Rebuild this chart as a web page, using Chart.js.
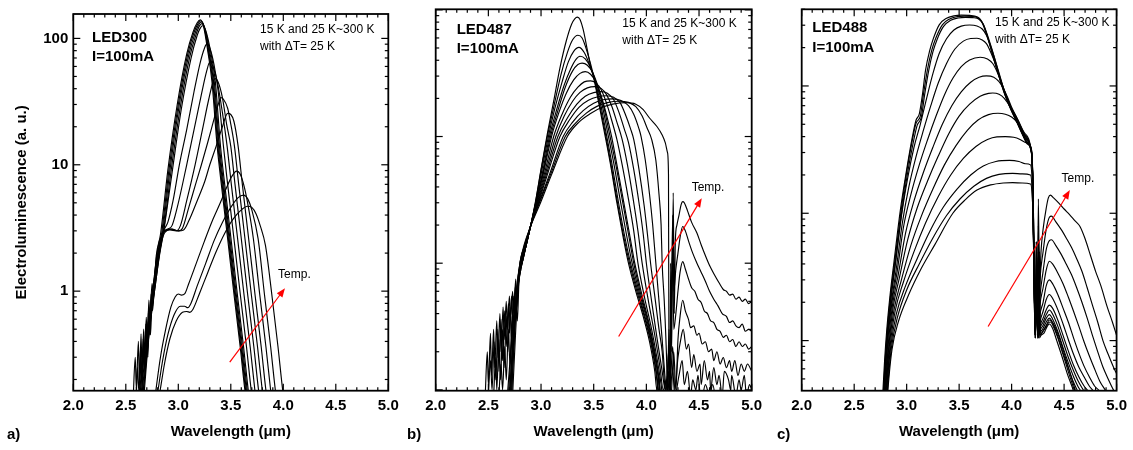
<!DOCTYPE html>
<html><head><meta charset="utf-8">
<script src="https://cdn.jsdelivr.net/npm/chart.js@4.4.1/dist/chart.umd.min.js"></script>
<style>
html,body{margin:0;padding:0;background:#fff;width:1133px;height:450px;overflow:hidden}
canvas{position:absolute;top:0}
</style></head><body>
<canvas id="ca" width="410" height="450" style="left:0"></canvas>
<canvas id="cb" width="380" height="450" style="left:395px"></canvas>
<canvas id="cc" width="368" height="450" style="left:765px"></canvas>
<script>
// ---------- shared ticks / labels ----------
const temps = ['15 K','25 K','50 K','75 K','100 K','125 K','150 K','175 K','200 K','225 K','250 K','275 K','300 K'];
const xTicks = [2.0,2.5,3.0,3.5,4.0,4.5,5.0];
const yTicksA = [1,10,100];

// ---------- panel a : LED300 ----------
const a15K=[[2.57,0.14],[2.59,0.3],[2.60,0.17],[2.62,0.4],[2.63,0.18],[2.645,0.46],[2.655,0.22],[2.67,0.5],[2.68,0.3],[2.695,0.62],[2.705,0.4],[2.72,0.85],[2.73,0.6],[2.75,1.15],[2.76,0.9],[2.79,1.9],[2.83,2.8],[2.90,9],[2.99,30],[3.08,75],[3.14,112],[3.18,133],[3.21,140],[3.24,125],[3.28,80],[3.32,46],[3.37,14],[3.41,7],[3.47,2.6],[3.53,0.95],[3.59,0.36],[3.635,0.163],[3.66,0.12]];
const a25K=[[2.62,0.14],[2.68,0.35],[2.73,0.7],[2.78,1.4],[2.84,2.8],[2.91,9],[3.00,30],[3.09,75],[3.15,112],[3.19,132],[3.215,138],[3.245,124],[3.285,80],[3.327,46],[3.377,14],[3.417,7],[3.477,2.6],[3.537,0.95],[3.597,0.36],[3.642,0.163],[3.67,0.12]];
const a50K=[[2.64,0.14],[2.70,0.4],[2.75,0.8],[2.80,1.6],[2.85,2.9],[2.92,9],[3.01,30],[3.10,74],[3.16,110],[3.195,129],[3.22,135],[3.25,121],[3.29,80],[3.334,46],[3.384,14],[3.424,7],[3.484,2.6],[3.544,0.95],[3.604,0.36],[3.649,0.163],[3.675,0.12]];
const a75K=[[2.60,0.14],[2.61,0.25],[2.625,0.16],[2.64,0.35],[2.65,0.2],[2.665,0.42],[2.675,0.25],[2.69,0.55],[2.70,0.3],[2.715,0.7],[2.725,0.45],[2.74,0.95],[2.755,0.7],[2.78,1.5],[2.82,2.5],[2.855,2.9],[2.93,8.8],[3.02,29],[3.11,72],[3.17,108],[3.20,125],[3.225,131],[3.255,119],[3.30,78],[3.342,46],[3.392,14],[3.432,7],[3.492,2.6],[3.552,0.95],[3.612,0.36],[3.657,0.163],[3.68,0.12]];
const a100K=[[2.66,0.14],[2.72,0.45],[2.77,0.95],[2.82,1.9],[2.86,2.95],[2.94,8.6],[3.03,28],[3.12,69],[3.18,106],[3.205,119],[3.23,126],[3.26,116],[3.31,77],[3.352,46],[3.402,14],[3.442,7],[3.502,2.6],[3.562,0.95],[3.622,0.36],[3.667,0.163],[3.69,0.12]];
const a125K=[[2.63,0.14],[2.69,0.4],[2.74,0.8],[2.79,1.7],[2.86,3.0],[2.90,3.5],[2.95,5.2],[3.01,10],[3.08,19],[3.15,38],[3.21,65],[3.25,84],[3.27,90],[3.30,84],[3.34,62],[3.38,38],[3.43,14],[3.47,7],[3.53,2.6],[3.59,0.95],[3.65,0.36],[3.695,0.163],[3.72,0.12]];
const a150K=[[2.63,0.14],[2.645,0.28],[2.655,0.17],[2.67,0.38],[2.685,0.22],[2.70,0.5],[2.71,0.3],[2.725,0.65],[2.735,0.45],[2.75,0.9],[2.77,1.2],[2.80,1.9],[2.85,2.9],[2.90,3.1],[2.94,3.3],[2.99,4.6],[3.08,10],[3.15,19],[3.22,36],[3.27,55],[3.30,65],[3.33,60],[3.37,46],[3.42,26],[3.465,14],[3.505,7],[3.565,2.6],[3.625,0.95],[3.685,0.36],[3.73,0.163],[3.75,0.12]];
const a175K=[[2.65,0.14],[2.71,0.45],[2.76,0.9],[2.81,1.9],[2.85,2.9],[2.92,3.05],[2.98,3.0],[3.02,3.3],[3.08,5.2],[3.16,10],[3.23,19],[3.29,33],[3.33,45],[3.35,48],[3.38,45],[3.42,34],[3.46,21],[3.50,14],[3.54,7],[3.60,2.6],[3.66,0.95],[3.72,0.36],[3.765,0.163],[3.79,0.12]];
const a200K=[[2.66,0.14],[2.72,0.5],[2.77,1.0],[2.82,2.0],[2.86,2.9],[2.93,3.1],[3.00,3.0],[3.04,3.15],[3.10,4.6],[3.16,6.8],[3.22,10],[3.28,15],[3.34,23],[3.38,30],[3.405,34],[3.43,33],[3.47,28],[3.50,21],[3.535,14],[3.575,7],[3.635,2.6],[3.695,0.95],[3.755,0.36],[3.80,0.163],[3.82,0.12]];
const a225K=[[2.67,0.14],[2.73,0.55],[2.78,1.1],[2.83,2.2],[2.87,2.9],[2.94,3.1],[3.00,3.0],[3.05,3.05],[3.10,3.6],[3.18,5.2],[3.25,7.3],[3.30,10],[3.36,14],[3.42,20],[3.47,25.5],[3.50,25],[3.53,22],[3.57,14],[3.61,7],[3.67,2.6],[3.73,0.95],[3.79,0.36],[3.835,0.163],[3.86,0.12]];
const a250K=[[2.78,0.15],[2.83,0.3],[2.88,0.5],[2.93,0.75],[2.97,0.9],[3.00,0.95],[3.03,0.93],[3.06,0.95],[3.10,1.15],[3.17,1.65],[3.25,2.5],[3.33,3.7],[3.40,5.0],[3.46,6.6],[3.51,8.1],[3.555,8.9],[3.59,8.4],[3.63,6.6],[3.67,4.5],[3.715,2.6],[3.775,0.95],[3.835,0.36],[3.88,0.163],[3.90,0.12]];
const a275K=[[2.80,0.15],[2.85,0.28],[2.90,0.45],[2.96,0.65],[3.02,0.76],[3.06,0.76],[3.09,0.74],[3.12,0.8],[3.18,1.1],[3.26,1.65],[3.34,2.5],[3.42,3.5],[3.50,4.6],[3.57,5.5],[3.62,5.76],[3.66,5.4],[3.70,4.4],[3.76,2.6],[3.82,0.95],[3.88,0.36],[3.925,0.163],[3.95,0.12]];
const a300K=[[2.82,0.15],[2.87,0.27],[2.92,0.42],[2.98,0.58],[3.04,0.68],[3.08,0.69],[3.11,0.68],[3.14,0.72],[3.20,0.95],[3.28,1.4],[3.36,2.05],[3.44,2.85],[3.52,3.7],[3.60,4.4],[3.66,4.7],[3.70,4.6],[3.74,4.1],[3.78,3.3],[3.83,2.3],[3.89,0.95],[3.95,0.36],[3.995,0.163],[4.02,0.12]];

// ---------- panel b : LED487 ----------
const b15K=[[2.47,0.09],[2.49,0.2],[2.50,0.11],[2.52,0.28],[2.53,0.13],[2.55,0.3],[2.56,0.15],[2.58,0.35],[2.59,0.18],[2.61,0.4],[2.62,0.2],[2.64,0.45],[2.65,0.25],[2.67,0.5],[2.68,0.3],[2.70,0.55],[2.71,0.35],[2.73,0.6],[2.74,0.4],[2.76,0.75],[2.77,0.5],[2.79,0.85],[2.82,1.0],[2.86,1.4],[2.90,1.95],[2.945,3.0],[3.00,5.5],[3.055,10],[3.12,19],[3.18,35],[3.24,57],[3.29,77],[3.32,85],[3.345,87.6],[3.37,84],[3.40,70],[3.44,48],[3.47,36],[3.50,29],[3.55,18],[3.60,11],[3.66,6],[3.72,3.0],[3.78,1.6],[3.83,1.0],[3.90,0.6],[3.97,0.38],[4.03,0.24],[4.08,0.14],[4.10,0.1],[4.12,0.13],[4.13,0.08]];
const b25K=[[2.70,0.09],[2.74,0.3],[2.78,0.65],[2.82,1.0],[2.86,1.4],[2.90,1.95],[2.947,3.0],[3.00,5.4],[3.06,10],[3.12,17],[3.19,31],[3.25,46],[3.30,58],[3.35,63],[3.39,60],[3.44,46],[3.50,30],[3.55,19],[3.605,11.2],[3.66,6.3],[3.72,3.2],[3.78,1.7],[3.84,1.0],[3.91,0.6],[3.98,0.38],[4.04,0.24],[4.09,0.14],[4.11,0.1],[4.13,0.08]];
const b50K=[[2.68,0.09],[2.73,0.3],[2.78,0.65],[2.82,1.0],[2.86,1.4],[2.90,1.95],[2.95,3.0],[3.00,5.0],[3.07,10],[3.13,16.5],[3.20,27],[3.26,39],[3.31,47],[3.36,50.5],[3.41,46],[3.46,37],[3.51,28],[3.56,19],[3.615,11],[3.67,6.3],[3.73,3.2],[3.79,1.7],[3.85,1.0],[3.92,0.6],[3.99,0.37],[4.05,0.23],[4.10,0.13],[4.12,0.09]];
const b75K=[[2.50,0.09],[2.52,0.17],[2.535,0.1],[2.555,0.24],[2.57,0.12],[2.59,0.3],[2.60,0.14],[2.62,0.36],[2.635,0.17],[2.655,0.42],[2.67,0.22],[2.69,0.48],[2.70,0.28],[2.72,0.55],[2.735,0.33],[2.755,0.65],[2.77,0.45],[2.79,0.8],[2.82,1.0],[2.86,1.4],[2.90,1.95],[2.95,3.0],[3.01,5.0],[3.08,10],[3.15,16.5],[3.22,25.5],[3.28,34],[3.33,40.5],[3.37,43],[3.42,41],[3.47,35],[3.52,27],[3.57,19.5],[3.63,11],[3.69,6.2],[3.75,3.2],[3.81,1.7],[3.865,1.0],[3.93,0.6],[4.00,0.37],[4.06,0.22],[4.11,0.13],[4.13,0.09]];
const b100K=[[2.69,0.09],[2.73,0.3],[2.775,0.65],[2.815,1.0],[2.86,1.4],[2.90,1.95],[2.952,3.0],[3.015,5.0],[3.09,10],[3.16,16],[3.23,24.5],[3.30,33],[3.35,37],[3.39,38],[3.44,36.5],[3.49,32],[3.54,25],[3.59,18],[3.65,10.5],[3.71,6],[3.77,3.2],[3.83,1.7],[3.88,1.0],[3.94,0.6],[4.01,0.36],[4.07,0.21],[4.12,0.12],[4.14,0.08]];
const b125K=[[2.71,0.09],[2.74,0.3],[2.775,0.65],[2.815,1.0],[2.86,1.4],[2.90,1.95],[2.955,3.0],[3.02,5.0],[3.10,10],[3.17,15.5],[3.24,22],[3.31,28],[3.37,31.5],[3.42,32.5],[3.47,31],[3.52,27],[3.57,21],[3.62,15],[3.67,10],[3.72,6],[3.78,3.2],[3.84,1.7],[3.89,1.0],[3.95,0.6],[4.02,0.35],[4.08,0.2],[4.12,0.12],[4.14,0.08]];
const b150K=[[2.55,0.09],[2.57,0.18],[2.58,0.1],[2.60,0.25],[2.615,0.12],[2.635,0.3],[2.65,0.15],[2.67,0.38],[2.685,0.2],[2.705,0.45],[2.72,0.25],[2.74,0.55],[2.755,0.35],[2.78,0.75],[2.815,1.0],[2.86,1.4],[2.90,1.95],[2.96,3.0],[3.03,5.0],[3.12,10],[3.20,15],[3.28,20.5],[3.35,24.5],[3.41,27],[3.47,27.5],[3.52,26.5],[3.57,23.5],[3.62,18.5],[3.67,13.5],[3.72,9.5],[3.77,6],[3.83,3.2],[3.88,1.8],[3.92,1.0],[3.98,0.55],[4.05,0.3],[4.10,0.18],[4.14,0.11],[4.16,0.08]];
const b175K=[[2.72,0.09],[2.75,0.3],[2.78,0.65],[2.81,1.0],[2.855,1.4],[2.90,1.95],[2.965,3.0],[3.04,5.0],[3.14,10],[3.22,14.5],[3.30,19],[3.37,22.3],[3.44,24.2],[3.51,24.8],[3.57,24],[3.62,21.5],[3.67,17.5],[3.72,13],[3.77,9.5],[3.82,6],[3.87,3.4],[3.92,1.8],[3.96,1.0],[4.02,0.5],[4.08,0.27],[4.13,0.15],[4.16,0.1],[4.19,0.12],[4.21,0.08],[4.25,0.14],[4.27,0.09],[4.31,0.13],[4.34,0.17],[4.36,0.11],[4.39,0.14],[4.42,0.09],[4.44,0.12],[4.47,0.1],[4.49,0.13],[4.52,0.08],[4.56,0.11],[4.60,0.09],[4.63,0.11],[4.66,0.08]];
const b200K=[[2.73,0.09],[2.76,0.3],[2.785,0.65],[2.81,1.0],[2.855,1.4],[2.90,1.95],[2.97,3.0],[3.05,5.0],[3.16,10],[3.25,14],[3.34,18],[3.42,20.8],[3.50,22.2],[3.57,22.6],[3.63,22],[3.69,19.5],[3.74,15.5],[3.79,11.5],[3.83,9],[3.88,5.5],[3.93,3.0],[3.97,1.7],[4.00,1.0],[4.05,0.5],[4.10,0.26],[4.15,0.14],[4.18,0.1],[4.20,0.13],[4.22,0.09],[4.25,0.22],[4.27,0.1],[4.30,0.18],[4.33,0.26],[4.35,0.3],[4.38,0.21],[4.40,0.23],[4.43,0.15],[4.45,0.19],[4.48,0.14],[4.51,0.16],[4.52,0.11],[4.55,0.17],[4.58,0.12],[4.60,0.14],[4.61,0.1],[4.64,0.15],[4.67,0.11],[4.69,0.13],[4.72,0.09],[4.74,0.14],[4.78,0.12],[4.80,0.1],[4.81,0.13],[4.85,0.09],[4.88,0.12],[4.90,0.1],[4.93,0.13],[4.95,0.09],[4.98,0.11],[5.0,0.1]];
const b225K=[[2.60,0.09],[2.62,0.16],[2.635,0.1],[2.655,0.22],[2.67,0.12],[2.69,0.3],[2.705,0.16],[2.725,0.38],[2.74,0.22],[2.76,0.5],[2.775,0.35],[2.79,0.7],[2.81,1.0],[2.85,1.4],[2.90,1.95],[2.975,3.0],[3.06,5.0],[3.18,10],[3.27,13.5],[3.36,17],[3.45,19.3],[3.54,20.6],[3.62,21],[3.69,20.4],[3.75,18.5],[3.80,15],[3.85,11.5],[3.88,9.5],[3.93,5.5],[3.98,2.8],[4.01,1.7],[4.04,1.0],[4.08,0.55],[4.12,0.3],[4.15,0.2],[4.17,0.12],[4.19,0.09],[4.21,0.14],[4.23,0.08],[4.26,0.2],[4.28,0.1],[4.30,0.25],[4.32,0.38],[4.345,0.51],[4.37,0.42],[4.40,0.36],[4.42,0.31],[4.45,0.32],[4.48,0.27],[4.50,0.28],[4.53,0.23],[4.56,0.24],[4.59,0.2],[4.62,0.21],[4.64,0.17],[4.67,0.2],[4.70,0.16],[4.73,0.18],[4.76,0.15],[4.79,0.17],[4.81,0.14],[4.84,0.17],[4.87,0.13],[4.90,0.16],[4.93,0.14],[4.96,0.16],[5.0,0.14]];
const b250K=[[2.72,0.09],[2.75,0.3],[2.78,0.65],[2.80,1.0],[2.85,1.4],[2.90,1.95],[2.98,3.0],[3.08,5.0],[3.21,10],[3.30,13],[3.40,16],[3.50,18.3],[3.59,19.5],[3.68,19.8],[3.76,19.2],[3.83,17.5],[3.88,15],[3.93,11.5],[3.95,10],[3.99,6.5],[4.03,3.5],[4.06,2.0],[4.09,1.0],[4.12,0.5],[4.15,0.25],[4.17,0.15],[4.19,0.1],[4.21,0.2],[4.22,0.09],[4.25,1.3],[4.26,0.3],[4.28,0.4],[4.30,0.6],[4.32,0.85],[4.345,1.03],[4.37,0.9],[4.40,0.75],[4.43,0.64],[4.46,0.6],[4.49,0.52],[4.52,0.49],[4.55,0.42],[4.58,0.4],[4.61,0.35],[4.64,0.34],[4.67,0.3],[4.70,0.29],[4.73,0.26],[4.76,0.27],[4.79,0.24],[4.82,0.25],[4.85,0.22],[4.88,0.24],[4.91,0.22],[4.94,0.23],[4.97,0.21],[5.0,0.22]];
const b275K=[[2.71,0.09],[2.745,0.3],[2.775,0.65],[2.80,1.0],[2.845,1.4],[2.90,1.95],[2.985,3.0],[3.09,5.0],[3.23,10],[3.33,12.8],[3.43,15.3],[3.53,17.3],[3.63,18.5],[3.74,19],[3.83,18.6],[3.90,17.2],[3.96,14.5],[4.01,11.5],[4.05,9.5],[4.09,6.5],[4.12,3.5],[4.14,2.0],[4.15,1.0],[4.17,0.5],[4.19,0.2],[4.20,0.1],[4.215,0.3],[4.225,0.09],[4.25,2.4],[4.26,0.6],[4.28,0.9],[4.30,1.2],[4.32,1.6],[4.345,1.95],[4.37,1.8],[4.40,1.5],[4.44,1.2],[4.48,1.0],[4.52,0.85],[4.56,0.72],[4.60,0.6],[4.64,0.52],[4.68,0.46],[4.72,0.4],[4.76,0.38],[4.79,0.34],[4.82,0.35],[4.85,0.32],[4.88,0.31],[4.91,0.33],[4.94,0.29],[4.97,0.3],[5.0,0.29]];
const b300K=[[2.70,0.09],[2.74,0.3],[2.77,0.65],[2.80,1.0],[2.84,1.4],[2.90,1.95],[2.995,3.0],[3.10,5.0],[3.25,10],[3.36,13],[3.47,15.2],[3.58,17],[3.68,18],[3.80,18.5],[3.90,18],[3.97,16.3],[4.03,14],[4.10,12],[4.15,10.3],[4.18,8.9],[4.20,7.5],[4.21,5],[4.215,0.1],[4.225,0.09],[4.23,1.0],[4.24,0.2],[4.255,3.6],[4.265,0.4],[4.275,1.5],[4.29,2.0],[4.31,2.4],[4.33,2.9],[4.345,3.06],[4.36,3.0],[4.39,2.6],[4.43,2.1],[4.48,1.73],[4.52,1.4],[4.56,1.15],[4.605,0.94],[4.65,0.8],[4.69,0.7],[4.73,0.62],[4.76,0.6],[4.79,0.56],[4.82,0.57],[4.85,0.52],[4.88,0.54],[4.91,0.5],[4.94,0.52],[4.97,0.48],[5.0,0.5]];

// ---------- panel c : LED488 ----------
const c15K=[[2.77,0.35],[2.79,0.7],[2.81,1.2],[2.84,2.2],[2.88,4.2],[2.94,10.6],[3.00,22],[3.05,38],[3.09,54],[3.12,60],[3.15,85],[3.18,133],[3.22,190],[3.25,230],[3.31,302],[3.38,340],[3.45,355],[3.52,360],[3.60,358],[3.67,350],[3.70,335],[3.73,305],[3.77,245],[3.82,175],[3.88,120],[3.94,85],[4.00,64],[4.05,52],[4.10,42],[4.15,35],[4.19,30],[4.205,15],[4.215,4],[4.225,1.2],[4.235,6],[4.245,1.1],[4.255,8],[4.265,1.05],[4.28,1.1],[4.31,1.15],[4.34,1.3],[4.36,1.35],[4.39,1.25],[4.43,1.0],[4.48,0.75],[4.53,0.55],[4.59,0.4],[4.62,0.32]];
const c25K=[[2.775,0.35],[2.795,0.7],[2.815,1.2],[2.845,2.2],[2.885,4.1],[2.945,10.2],[3.00,21],[3.05,36],[3.09,51],[3.13,58],[3.16,86],[3.20,137],[3.24,192],[3.28,240],[3.34,302],[3.41,336],[3.48,350],[3.55,354],[3.62,352],[3.68,342],[3.72,312],[3.76,255],[3.81,188],[3.87,126],[3.93,88],[3.99,66],[4.05,52],[4.10,42.5],[4.15,35.5],[4.19,30.5],[4.205,14],[4.215,3.5],[4.225,1.15],[4.24,5],[4.25,1.1],[4.26,6],[4.27,1.1],[4.29,1.15],[4.32,1.25],[4.35,1.38],[4.37,1.4],[4.40,1.28],[4.44,1.05],[4.49,0.78],[4.54,0.57],[4.60,0.4],[4.63,0.33]];
const c50K=[[2.78,0.35],[2.80,0.7],[2.82,1.2],[2.85,2.2],[2.89,4.0],[2.95,9.8],[3.01,21],[3.06,35],[3.10,49],[3.14,57],[3.17,84],[3.21,132],[3.25,185],[3.29,232],[3.35,292],[3.42,328],[3.49,342],[3.56,346],[3.63,344],[3.69,334],[3.73,305],[3.77,250],[3.82,185],[3.88,124],[3.94,87],[4.00,65.5],[4.05,52.5],[4.10,43],[4.15,36],[4.19,31],[4.205,14],[4.215,3.3],[4.225,1.12],[4.24,4.5],[4.25,1.1],[4.265,5],[4.275,1.12],[4.30,1.2],[4.33,1.32],[4.36,1.45],[4.38,1.42],[4.41,1.3],[4.45,1.08],[4.50,0.8],[4.55,0.58],[4.61,0.4],[4.64,0.33]];
const c75K=[[2.78,0.35],[2.80,0.7],[2.82,1.2],[2.85,2.1],[2.89,3.8],[2.95,9.5],[3.01,19],[3.07,33],[3.13,50],[3.19,80],[3.25,125],[3.31,180],[3.38,235],[3.45,275],[3.52,295],[3.60,301],[3.67,296],[3.72,280],[3.76,250],[3.81,195],[3.87,135],[3.93,92],[3.99,68],[4.05,54],[4.10,43.5],[4.15,36],[4.19,31.5],[4.205,15],[4.215,3.2],[4.225,1.1],[4.24,4],[4.25,1.08],[4.27,1.15],[4.30,1.25],[4.33,1.4],[4.36,1.5],[4.39,1.38],[4.44,1.08],[4.49,0.8],[4.54,0.61],[4.59,0.47],[4.63,0.4],[4.67,0.35]];
const c100K=[[2.78,0.3],[2.80,0.6],[2.82,1.1],[2.855,2.0],[2.90,3.6],[2.96,8.5],[3.02,16],[3.09,28],[3.16,45],[3.23,70],[3.30,105],[3.38,150],[3.46,195],[3.54,225],[3.61,236],[3.67,237],[3.72,230],[3.76,215],[3.80,185],[3.85,145],[3.90,105],[3.95,80],[4.00,64],[4.06,51],[4.12,40],[4.18,32],[4.20,20],[4.215,2.4],[4.225,1.05],[4.24,2.0],[4.25,1.05],[4.27,1.2],[4.30,1.32],[4.33,1.5],[4.36,1.6],[4.39,1.48],[4.44,1.18],[4.49,0.88],[4.54,0.67],[4.59,0.52],[4.63,0.44],[4.66,0.4],[4.70,0.35]];
const c125K=[[2.785,0.3],[2.805,0.6],[2.825,1.1],[2.86,2.0],[2.91,3.5],[2.97,7.8],[3.04,14],[3.12,24],[3.20,38],[3.28,58],[3.36,85],[3.44,115],[3.52,142],[3.60,160],[3.70,168],[3.77,163],[3.82,150],[3.86,130],[3.90,108],[3.95,84],[4.00,66],[4.06,52],[4.12,41],[4.18,32.5],[4.20,20],[4.215,2.5],[4.225,1.05],[4.24,2.2],[4.25,1.05],[4.27,1.25],[4.30,1.4],[4.33,1.6],[4.36,1.74],[4.39,1.62],[4.44,1.3],[4.49,0.98],[4.54,0.74],[4.59,0.58],[4.64,0.47],[4.69,0.4],[4.73,0.35]];
const c150K=[[2.79,0.3],[2.81,0.6],[2.83,1.05],[2.865,1.9],[2.92,3.3],[2.99,7],[3.07,12.5],[3.16,21],[3.25,33],[3.34,50],[3.43,70],[3.52,90],[3.61,107],[3.69,117],[3.76,120],[3.83,117],[3.88,108],[3.92,96],[3.96,82],[4.00,68],[4.06,54],[4.12,42],[4.18,33],[4.20,20],[4.215,2.6],[4.225,1.05],[4.24,2.4],[4.25,1.05],[4.27,1.3],[4.30,1.5],[4.33,1.75],[4.36,1.9],[4.39,1.8],[4.44,1.45],[4.49,1.1],[4.54,0.83],[4.59,0.64],[4.64,0.52],[4.69,0.44],[4.73,0.4],[4.77,0.35]];
const c175K=[[2.79,0.3],[2.81,0.55],[2.835,1.0],[2.87,1.8],[2.93,3.1],[3.01,6.2],[3.10,11],[3.20,18],[3.30,28],[3.40,42],[3.50,58],[3.60,72],[3.70,83],[3.78,87.5],[3.82,88],[3.88,86],[3.93,80],[3.97,72],[4.01,64],[4.06,54],[4.12,43],[4.18,33.5],[4.20,20],[4.215,2.8],[4.225,1.05],[4.24,2.6],[4.25,1.05],[4.27,1.4],[4.30,1.7],[4.33,2.1],[4.36,2.3],[4.39,2.15],[4.44,1.75],[4.49,1.35],[4.54,1.02],[4.59,0.78],[4.64,0.62],[4.69,0.52],[4.74,0.44],[4.78,0.4],[4.82,0.35]];
const c200K=[[2.795,0.3],[2.815,0.55],[2.84,1.0],[2.88,1.75],[2.95,3.0],[3.04,5.6],[3.14,9.5],[3.25,15.5],[3.36,24],[3.47,34],[3.58,45],[3.68,54],[3.78,59.5],[3.87,61],[3.94,60],[4.00,57],[4.05,52],[4.10,45],[4.14,39],[4.18,33],[4.20,20],[4.215,3],[4.225,1.1],[4.24,2.8],[4.25,1.1],[4.27,1.6],[4.30,2.0],[4.33,2.7],[4.36,3.0],[4.39,2.8],[4.44,2.3],[4.49,1.8],[4.54,1.4],[4.59,1.05],[4.64,0.8],[4.69,0.63],[4.74,0.52],[4.79,0.44],[4.84,0.4],[4.88,0.35]];
const c225K=[[2.80,0.3],[2.82,0.55],[2.845,0.95],[2.89,1.7],[2.97,2.9],[3.07,5.0],[3.18,8.4],[3.30,13.5],[3.42,20],[3.54,27],[3.66,33.5],[3.77,38],[3.86,39.8],[3.94,40],[4.02,39.5],[4.08,38],[4.13,36],[4.18,33],[4.20,20],[4.215,3],[4.225,1.1],[4.24,3],[4.25,1.1],[4.27,1.9],[4.30,2.6],[4.33,3.6],[4.36,4.2],[4.39,4.0],[4.44,3.4],[4.49,2.8],[4.54,2.2],[4.59,1.7],[4.64,1.3],[4.69,0.98],[4.74,0.76],[4.79,0.6],[4.84,0.48],[4.90,0.4],[4.95,0.34]];
const c250K=[[2.80,0.3],[2.82,0.52],[2.85,0.92],[2.90,1.6],[2.99,2.7],[3.10,4.4],[3.22,7.2],[3.35,11.2],[3.48,15.5],[3.61,20],[3.73,23.5],[3.85,25.5],[3.98,26],[4.07,25.5],[4.13,24.5],[4.18,24],[4.20,14],[4.215,3],[4.225,1.1],[4.24,3.5],[4.25,1.15],[4.27,2.2],[4.30,3.5],[4.33,5.2],[4.36,6.1],[4.38,6.2],[4.42,5.6],[4.47,4.8],[4.52,4.0],[4.57,3.3],[4.62,2.6],[4.67,2.0],[4.72,1.5],[4.77,1.1],[4.82,0.82],[4.87,0.62],[4.92,0.5],[4.97,0.41],[5.00,0.37]];
const c275K=[[2.805,0.3],[2.825,0.5],[2.855,0.88],[2.91,1.5],[3.00,2.5],[3.12,4.0],[3.25,6.4],[3.38,9.6],[3.51,13],[3.64,16.3],[3.76,18.8],[3.88,20.2],[4.01,20.6],[4.10,20.4],[4.18,20],[4.20,12],[4.215,3],[4.225,1.2],[4.24,4],[4.25,1.2],[4.27,3],[4.30,5],[4.33,7.5],[4.36,9.3],[4.38,9.5],[4.42,8.6],[4.47,7.5],[4.52,6.4],[4.57,5.4],[4.62,4.4],[4.67,3.5],[4.72,2.6],[4.77,1.9],[4.82,1.4],[4.87,1.0],[4.92,0.78],[4.97,0.62],[5.00,0.55]];
const c300K=[[2.81,0.3],[2.83,0.5],[2.86,0.85],[2.92,1.4],[3.02,2.3],[3.14,3.7],[3.27,5.7],[3.44,10],[3.56,12.8],[3.67,15.2],[3.80,16.7],[3.92,17.3],[4.01,17.4],[4.10,17.3],[4.18,17],[4.20,12],[4.215,4],[4.225,1.3],[4.235,6],[4.245,1.5],[4.255,13],[4.265,2.5],[4.28,5],[4.30,7.5],[4.33,11],[4.35,13.2],[4.37,13.9],[4.40,13.2],[4.45,12],[4.50,10.8],[4.55,9.8],[4.60,8.8],[4.65,7.9],[4.70,6.3],[4.75,4.7],[4.80,3.5],[4.85,2.7],[4.91,1.85],[4.96,1.4],[5.00,1.1]];

// ---------- annotation anchors (data coords) ----------
const arrowA=[[3.49,0.274],[4.016,1.055]], tempA=[3.95,1.36];
const arrowB=[[3.737,0.264],[4.526,3.26]], tempB=[4.43,3.95];
const arrowC=[[3.776,1.29],[4.555,15.2]], tempC=[4.476,18.6];

const curvesA=[a15K,a25K,a50K,a75K,a100K,a125K,a150K,a175K,a200K,a225K,a250K,a275K,a300K];
const curvesB=[b15K,b25K,b50K,b75K,b100K,b125K,b150K,b175K,b200K,b225K,b250K,b275K,b300K];
const curvesC=[c15K,c25K,c50K,c75K,c100K,c125K,c150K,c175K,c200K,c225K,c250K,c275K,c300K];

const F='"Liberation Sans", Arial, Helvetica, sans-serif';

const framePlugin={
  id:'frame',
  afterDatasetsDraw(chart, args, o){
    const ctx=chart.ctx, a=chart.chartArea, x=chart.scales.x, y=chart.scales.y;
    ctx.save();
    ctx.strokeStyle='#000'; ctx.lineCap='butt';
    const ln=(x1,y1,x2,y2)=>{ctx.beginPath();ctx.moveTo(x1,y1);ctx.lineTo(x2,y2);ctx.stroke();};
    ctx.lineWidth=1.2;
    for(let i=0;i<=30;i++){
      const v=2+i*0.1, px=x.getPixelForValue(v), L=(i%5===0)?7:3.5;
      ln(px,a.bottom,px,a.bottom-L); ln(px,a.top,px,a.top+L);
    }
    const lo=Math.floor(Math.log10(y.min)), hi=Math.ceil(Math.log10(y.max));
    for(let d=lo;d<=hi;d++) for(let m=1;m<=9;m++){
      const v=m*Math.pow(10,d);
      if(v<y.min||v>y.max) continue;
      const py=y.getPixelForValue(v), L=(m===1)?7:3.5;
      ln(a.left,py,a.left+L,py); ln(a.right,py,a.right-L,py);
    }
    ctx.lineWidth=1.8;
    ctx.strokeRect(a.left,a.top,a.right-a.left,a.bottom-a.top);
    // red arrow
    const p1=[x.getPixelForValue(o.arrow[0][0]),y.getPixelForValue(o.arrow[0][1])];
    const p2=[x.getPixelForValue(o.arrow[1][0]),y.getPixelForValue(o.arrow[1][1])];
    const ang=Math.atan2(p2[1]-p1[1],p2[0]-p1[0]);
    ctx.strokeStyle='#ff0000'; ctx.fillStyle='#ff0000'; ctx.lineWidth=1.2;
    ln(p1[0],p1[1],p2[0]-6*Math.cos(ang),p2[1]-6*Math.sin(ang));
    ctx.beginPath();
    ctx.moveTo(p2[0],p2[1]);
    ctx.lineTo(p2[0]-9*Math.cos(ang)+3.5*Math.sin(ang),p2[1]-9*Math.sin(ang)-3.5*Math.cos(ang));
    ctx.lineTo(p2[0]-9*Math.cos(ang)-3.5*Math.sin(ang),p2[1]-9*Math.sin(ang)+3.5*Math.cos(ang));
    ctx.closePath(); ctx.fill();
    // texts
    ctx.fillStyle='#000'; ctx.textBaseline='middle'; ctx.textAlign='left';
    ctx.font='12px '+F;
    ctx.fillText('Temp.', x.getPixelForValue(o.temp[0]), y.getPixelForValue(o.temp[1]));
    ctx.fillText('15 K and 25 K~300 K', a.left+o.tx, a.top+o.ty1);
    ctx.fillText('with \u0394T= 25 K', a.left+o.tx, a.top+o.ty2);
    ctx.font='bold 15px '+F;
    ctx.fillText(o.led, a.left+o.lx, a.top+o.ly1);
    ctx.fillText('I=100mA', a.left+o.lx, a.top+o.ly2);
    ctx.fillText(o.panel, o.panelX, 435);
    ctx.textAlign='center';
    ctx.fillText('Wavelength (\u03bcm)', (a.left+a.right)/2, 432);
    if(o.ytitle){
      ctx.translate(21.7,(a.top+a.bottom)/2); ctx.rotate(-Math.PI/2);
      ctx.fillText('Electroluminescence (a. u.)',0,0);
    }
    ctx.restore();
  }
};

function build(id, curves, yMin, yMax, showY, yWidth, padRight, ann){
  return new Chart(document.getElementById(id),{
    type:'line',
    data:{datasets:curves.map((c,i)=>({label:temps[i],data:c.map(p=>({x:p[0],y:p[1]})),borderColor:'#000',borderWidth:1.15,pointRadius:0,fill:false,cubicInterpolationMode:'monotone'}))},
    options:{
      responsive:false, animation:false, events:[],
      layout:{padding:{top:9.3,right:padRight,left:0,bottom:0}},
      plugins:{legend:{display:false},tooltip:{enabled:false},frame:ann},
      scales:{
        x:{type:'linear',min:2,max:5,
          afterBuildTicks:s=>{s.ticks=xTicks.map(v=>({value:v}));},
          ticks:{callback:v=>Number(v).toFixed(1),font:{family:F,size:15,weight:'bold'},color:'#000',padding:6,maxRotation:0,autoSkip:false},
          grid:{display:false,drawTicks:false},border:{display:false},
          afterFit:s=>{s.height=59.3;}},
        y:{type:'logarithmic',min:yMin,max:yMax,
          afterBuildTicks:s=>{s.ticks=(showY?yTicksA:[]).map(v=>({value:v}));},
          ticks:{display:showY,callback:v=>String(v),font:{family:F,size:15,weight:'bold'},color:'#000',padding:5,autoSkip:false},
          grid:{display:false,drawTicks:false},border:{display:false},
          afterFit:s=>{s.width=yWidth;}}
      }
    },
    plugins:[framePlugin]
  });
}

build('ca',curvesA,0.163,156,true,73.3,410-388.3,
  {arrow:arrowA,temp:tempA,led:'LED300',lx:18.7,ly1:23.7,ly2:42.7,tx:186.7,ty1:15.7,ty2:32.4,panel:'a)',panelX:7,ytitle:true});
build('cb',curvesB,0.0985,101,false,40.7,380-356.7,
  {arrow:arrowB,temp:tempB,led:'LED487',lx:21,ly1:20.7,ly2:39.7,tx:186.6,ty1:14.7,ty2:31.4,panel:'b)',panelX:12,ytitle:false});
build('cc',curvesC,0.404,400,false,36.7,368-351.7,
  {arrow:arrowC,temp:tempC,led:'LED488',lx:10.6,ly1:18.4,ly2:38.4,tx:193.3,ty1:13.4,ty2:30,panel:'c)',panelX:12,ytitle:false});
</script>
</body></html>
